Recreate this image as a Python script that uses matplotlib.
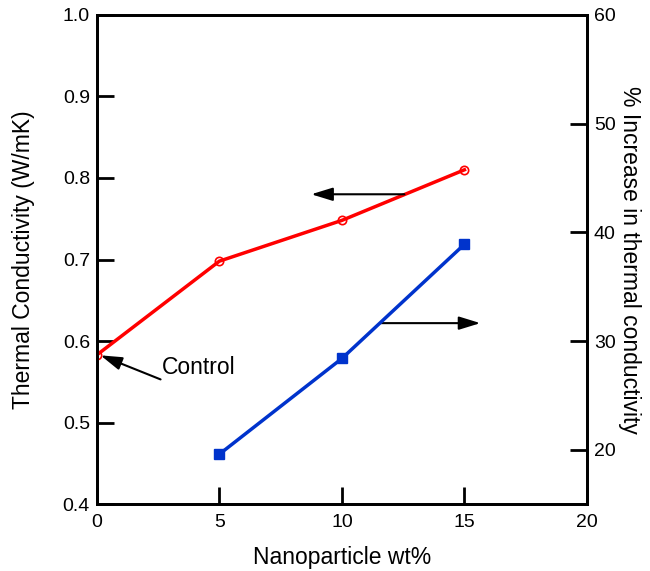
import matplotlib
matplotlib.use("Agg")
import matplotlib.pyplot as plt

plt.rcParams['font.family'] = ['Liberation Sans', 'DejaVu Sans']

wt = [0, 5, 10, 15]
tc = [0.583, 0.698, 0.748, 0.810]
wt_pct = [5, 10, 15]
pct_inc = [19.6, 28.4, 38.9]

fig = plt.figure(figsize=(6.5, 5.71), dpi=100)
ax = fig.add_axes([0.149, 0.117, 0.754, 0.857])
ax2 = ax.twinx()

ax.plot(wt, tc, color='#ff0000', lw=2.5, marker='o', ms=6, mfc='none', mec='#ff0000', mew=1.2, zorder=3)
ax2.plot(wt_pct, pct_inc, color='#0033cc', lw=2.5, marker='s', ms=7, mfc='#0033cc', mec='#0033cc', zorder=3)

ax.set_xlim(0, 20)
ax.set_ylim(0.4, 1.0)
ax2.set_ylim(15, 60)
ax.set_xticks([0, 5, 10, 15, 20])
ax.set_yticks([0.4, 0.5, 0.6, 0.7, 0.8, 0.9, 1.0])
ax.set_yticklabels(['0.4', '0.5', '0.6', '0.7', '0.8', '0.9', '1.0'])
ax2.set_yticks([20, 30, 40, 50, 60])

for a in (ax, ax2):
    for s in a.spines.values():
        s.set_linewidth(2)
ax.tick_params(axis='both', direction='in', length=12, width=2, labelsize=14, pad=5)
ax.tick_params(axis='x', top=False, pad=7)
ax2.tick_params(axis='y', direction='in', length=12, width=2, labelsize=14, pad=5)

ax.set_xlabel('Nanoparticle wt%', fontsize=16.5, labelpad=11)
ax.set_ylabel('Thermal Conductivity (W/mK)', fontsize=16.5, labelpad=20)
ax2.set_ylabel('% Increase in thermal conductivity', fontsize=16.5, rotation=270, labelpad=18)

hs = '-|>,head_length=1.3,head_width=0.4'
ax.annotate('', xy=(8.75, 0.780), xytext=(12.55, 0.780),
            arrowprops=dict(arrowstyle=hs, color='black', lw=1.5, shrinkA=0, shrinkB=0))
ax.annotate('', xy=(15.65, 0.622), xytext=(11.55, 0.622),
            arrowprops=dict(arrowstyle=hs, color='black', lw=1.5, shrinkA=0, shrinkB=0))
ax.annotate('', xy=(0.15, 0.5825), xytext=(2.6, 0.553),
            arrowprops=dict(arrowstyle=hs, color='black', lw=1.5, shrinkA=0, shrinkB=0))
ax.text(2.65, 0.567, 'Control', fontsize=16.5, va='center', ha='left')

fig.savefig('out.png', dpi=100)
